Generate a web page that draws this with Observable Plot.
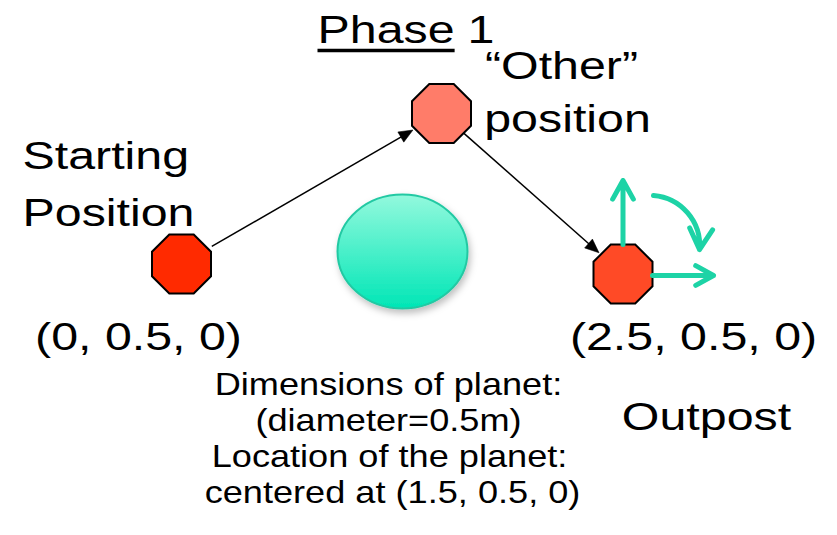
<!DOCTYPE html>
<html>
<head>
<meta charset="utf-8">
<script src="https://cdn.jsdelivr.net/npm/d3@7"></script>
<script src="https://cdn.jsdelivr.net/npm/@observablehq/plot@0.6"></script>
<style>
  html, body { margin: 0; padding: 0; background: #ffffff; }
  #chart svg { display: block; }
</style>
</head>
<body>
<div id="chart"></div>
<script>
// ---------- diagram data (layout units = pixels of the 837x535 canvas) ----------
const nodeNames = ["Starting Position", "Other position", "Outpost"];
const nodeX = [181, 441, 622.5];
const nodeY = [263.5, 113, 273.5];
const nodeFill = ["#ff2a00", "#ff7c69", "#ff4a26"];
const nodeDashed = [false, true, true];
const nodeApothem = 29.5;

// black path arrows between nodes
const pathFrom = [0, 1];
const pathTo = [1, 2];
const pathInsetStart = [35, 27];
const pathInsetEnd = [33, 32];

// planet
const planetX = 402, planetY = 251, planetRx = 65, planetRy = 57;

// teal orientation arrows at the outpost (straight ones)
const axisX1 = [622.5, 652];
const axisY1 = [244, 275];
const axisX2 = [622.5, 713];
const axisY2 = [180, 275];
// curved rotation arrow
const rotX1 = [653], rotY1 = [195], rotX2 = [699], rotY2 = [249];
const rotBend = 45;

// text
const titleText = ["Phase", "1"];
const titleX = [317, 467];
const titleY = [42, 42];
const underlineGap = 8;

const leftText = ["Starting", "Position"];
const leftX = [22, 22];
const leftY = [168, 225];

const bigText = ["\u201COther\u201D", "position", "(0, 0.5, 0)", "(2.5, 0.5, 0)", "Outpost"];
const bigX = [561, 567, 138, 693, 706];
const bigY = [78, 131, 349, 349, 429];

const noteText = ["Dimensions of planet:", "(diameter=0.5m)", "Location of the planet:", "centered at (1.5, 0.5, 0)"];
const noteX = [388, 388, 389, 392];
const noteY = [394, 430, 466, 502];

const teal = "#1dd3a6";
const bigSize = 39, noteSize = 32;
const bigScaleX = 1.24, noteScaleX = 1.13;
const font = "Liberation Sans, Arial, Helvetica, sans-serif";

// ---------- derived tables ----------
const nodes = nodeNames.map((name, i) => ({name, x: nodeX[i], y: nodeY[i], fill: nodeFill[i], dashed: nodeDashed[i]}));
const paths = pathFrom.map((f, i) => {
  const a = nodes[f], b = nodes[pathTo[i]];
  const dx = b.x - a.x, dy = b.y - a.y, L = Math.hypot(dx, dy);
  const ux = dx / L, uy = dy / L;
  return {
    x1: a.x + ux * pathInsetStart[i], y1: a.y + uy * pathInsetStart[i],
    x2: b.x - ux * pathInsetEnd[i], y2: b.y - uy * pathInsetEnd[i],
    angle: Math.atan2(dy, dx) * 180 / Math.PI
  };
});
const axes = axisX1.map((x1, i) => ({x1, y1: axisY1[i], x2: axisX2[i], y2: axisY2[i]}));
const rots = rotX1.map((x1, i) => ({x1, y1: rotY1[i], x2: rotX2[i], y2: rotY2[i]}));
const titles = titleText.map((text, i) => ({text, x: titleX[i], y: titleY[i]}));
const lefts = leftText.map((text, i) => ({text, x: leftX[i], y: leftY[i]}));
const bigs = bigText.map((text, i) => ({text, x: bigX[i], y: bigY[i]}));
const notes = noteText.map((text, i) => ({text, x: noteX[i], y: noteY[i]}));

// underline under "Phase": width measured from the font
const measureCtx = document.createElement("canvas").getContext("2d");
measureCtx.font = `${bigSize}px ${font}`;
const phaseWidth = measureCtx.measureText(titleText[0]).width * bigScaleX;
const underline = [{x1: titleX[0], x2: titleX[0] + phaseWidth, y: titleY[0] + underlineGap}];

// ---------- custom symbols ----------
const octagon = {
  draw(ctx, size) {
    const r = Math.sqrt(size / Math.PI);
    for (let k = 0; k < 8; ++k) {
      const a = Math.PI / 8 + k * Math.PI / 4;
      const px = r * Math.cos(a), py = r * Math.sin(a);
      if (k) ctx.lineTo(px, py); else ctx.moveTo(px, py);
    }
    ctx.closePath();
  }
};
const ellipseSymbol = (ratio) => ({
  draw(ctx, size) {
    const rx = Math.sqrt(size / Math.PI), ry = rx * ratio, k = 0.5523;
    ctx.moveTo(rx, 0);
    ctx.bezierCurveTo(rx, ry * k, rx * k, ry, 0, ry);
    ctx.bezierCurveTo(-rx * k, ry, -rx, ry * k, -rx, 0);
    ctx.bezierCurveTo(-rx, -ry * k, -rx * k, -ry, 0, -ry);
    ctx.bezierCurveTo(rx * k, -ry, rx, -ry * k, rx, 0);
    ctx.closePath();
  }
});
const headSymbol = {
  draw(ctx, size) {
    const L = Math.sqrt(size / Math.PI);
    ctx.moveTo(0, 0);
    ctx.lineTo(-L, -L * 0.42);
    ctx.lineTo(-L, L * 0.42);
    ctx.closePath();
  }
};

const defsMark = () => {
  const defs = d3.create("svg:defs");
  const g = defs.append("linearGradient").attr("id", "planetGrad").attr("x1", 0).attr("y1", 0).attr("x2", 0).attr("y2", 1);
  g.append("stop").attr("offset", "0%").attr("stop-color", "#93f9dd");
  g.append("stop").attr("offset", "100%").attr("stop-color", "#00e6b6");
  const f = defs.append("filter").attr("id", "planetShadow").attr("x", "-30%").attr("y", "-30%").attr("width", "160%").attr("height", "160%");
  f.append("feDropShadow").attr("dx", 2).attr("dy", 4).attr("stdDeviation", 3.5).attr("flood-color", "#000").attr("flood-opacity", 0.25);
  return defs.node();
};

const textOpts = {x: "x", y: "y", text: "text", lineAnchor: "bottom", fontFamily: font, fill: "#000"};

const chart = Plot.plot({
  width: 837,
  height: 535,
  margin: 0,
  x: {domain: [0, 837], range: [0, 837], axis: null},
  y: {domain: [0, 535], range: [0, 535], axis: null},
  style: {background: "#ffffff", overflow: "visible"},
  marks: [
    defsMark,
    // planet
    Plot.dot([{x: planetX, y: planetY}], {
      x: "x", y: "y", r: planetRx, symbol: ellipseSymbol(planetRy / planetRx),
      fill: "url(#planetGrad)", stroke: "#22c9a3", strokeWidth: 2
    }),
    // path lines
    Plot.link(paths, {
      x1: "x1", y1: "y1",
      x2: d => d.x2 - Math.cos(d.angle * Math.PI / 180) * 8,
      y2: d => d.y2 - Math.sin(d.angle * Math.PI / 180) * 8,
      stroke: "#000", strokeWidth: 1.5
    }),
    // nodes
    Plot.dot(nodes, {
      x: "x", y: "y", r: nodeApothem / Math.cos(Math.PI / 8), symbol: octagon,
      fill: "fill", stroke: "#000", strokeWidth: 2,
      strokeDasharray: d => d.dashed ? "7,3" : null
    }),
    // arrowheads of path lines
    Plot.dot(paths, {
      x: "x2", y: "y2", r: 14, rotate: "angle", symbol: headSymbol,
      fill: "#000", stroke: "#000", strokeWidth: 0.5
    }),
    // teal orientation arrows
    Plot.arrow(axes, {
      x1: "x1", y1: "y1", x2: "x2", y2: "y2",
      stroke: teal, strokeWidth: 5, headLength: 7.5, headAngle: 58,
      strokeLinecap: "round", strokeLinejoin: "round"
    }),
    Plot.arrow(rots, {
      x1: "x1", y1: "y1", x2: "x2", y2: "y2", bend: rotBend,
      stroke: teal, strokeWidth: 5, headLength: 7.5, headAngle: 58,
      strokeLinecap: "round", strokeLinejoin: "round"
    }),
    // underline of "Phase"
    Plot.link(underline, {x1: "x1", x2: "x2", y1: "y", y2: "y", stroke: "#000", strokeWidth: 3.5}),
    // texts
    Plot.text(titles, {...textOpts, textAnchor: "start", fontSize: bigSize}),
    Plot.text(lefts, {...textOpts, textAnchor: "start", fontSize: bigSize}),
    Plot.text(bigs, {...textOpts, textAnchor: "middle", fontSize: bigSize}),
    Plot.text(notes, {...textOpts, textAnchor: "middle", fontSize: noteSize})
  ]
});

document.getElementById("chart").appendChild(chart);

// post-styling: shadow for the planet, horizontal widening of the text (as in the original slide)
chart.querySelectorAll('path[fill="url(#planetGrad)"], g[fill="url(#planetGrad)"] path')
  .forEach(p => p.setAttribute("filter", "url(#planetShadow)"));
chart.querySelectorAll("text").forEach(t => {
  const g = t.closest("g[font-size]");
  const fs = g ? parseFloat(g.getAttribute("font-size")) : bigSize;
  const sx = fs === noteSize ? noteScaleX : bigScaleX;
  let tr = t.getAttribute("transform") || "";
  const x = t.getAttribute("x"), y = t.getAttribute("y");
  if (x != null && !isNaN(+x)) { tr += ` translate(${+x},0)`; t.removeAttribute("x"); }
  if (y != null && !isNaN(+y)) { tr += ` translate(0,${+y})`; t.removeAttribute("y"); }
  t.setAttribute("transform", `${tr} scale(${sx},1)`);
});
</script>
</body>
</html>
